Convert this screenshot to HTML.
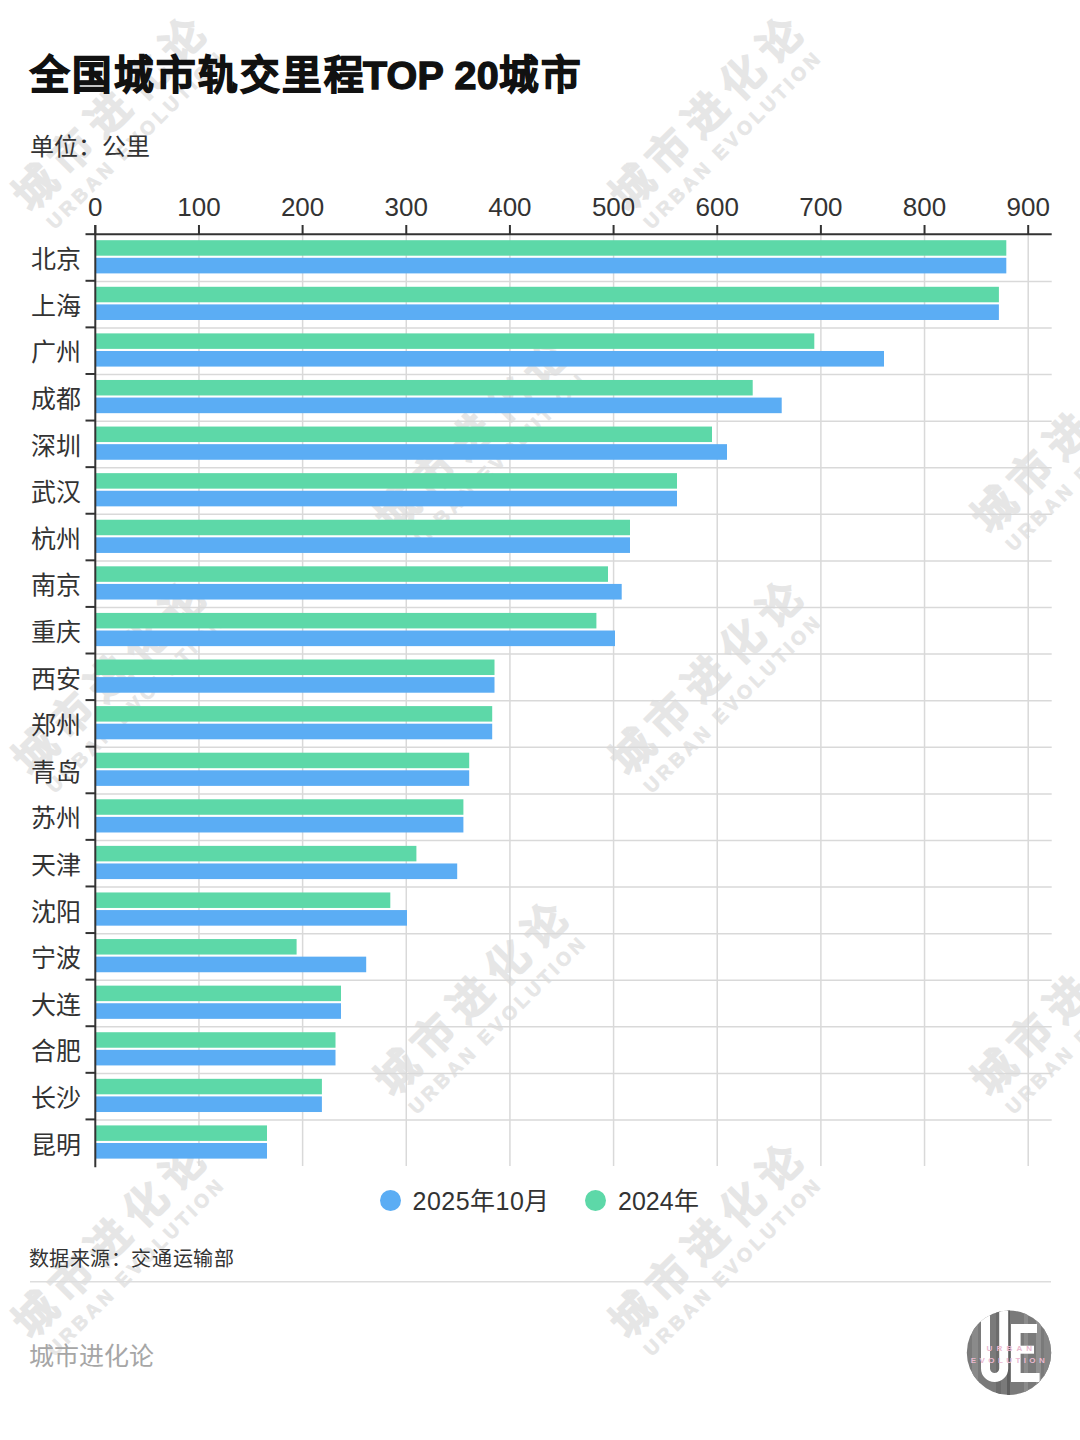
<!DOCTYPE html>
<html lang="zh-CN"><head><meta charset="utf-8"><style>
html,body{margin:0;padding:0;background:#fff;}
body{width:1080px;height:1440px;position:relative;overflow:hidden;font-family:"Liberation Sans",sans-serif;color:#333;}
.a{position:absolute;white-space:nowrap;line-height:1;}
.title{left:30px;top:56px;font-size:39.5px;font-weight:bold;color:#111;letter-spacing:2px;-webkit-text-stroke:1.3px #111;}
.lat{letter-spacing:0.2px;}
.unit{left:30px;top:135px;font-size:24px;}
.xl{position:absolute;top:194px;width:120px;text-align:center;font-size:26px;line-height:1;color:#333;}
.yl{position:absolute;left:0;width:81.2px;text-align:right;font-size:25px;line-height:28px;color:#333;}
.src{left:28.5px;top:1249px;font-size:20px;letter-spacing:0.6px;}
.foot{left:28.5px;top:1344px;font-size:25px;color:#a6a6a6;}
.leg{top:1188.5px;font-size:25px;}
.dot{position:absolute;width:21px;height:21px;border-radius:50%;top:1189.5px;}
svg{position:absolute;left:0;top:0;}
.wm{position:absolute;width:0;height:0;transform:rotate(-45deg);}
.wc{position:absolute;left:-200px;width:400px;top:-24px;height:48px;line-height:48px;text-align:center;font-size:42px;font-weight:bold;letter-spacing:10px;text-indent:10px;color:#e6e6e6;-webkit-text-stroke:1.5px #e6e6e6;}
.we{position:absolute;left:-200px;width:400px;top:26px;height:22px;line-height:22px;text-align:center;font-size:19px;font-weight:bold;letter-spacing:3.9px;text-indent:3.9px;color:#e6e6e6;-webkit-text-stroke:0.8px #e6e6e6;}
</style></head><body>
<div class="wm" style="left:109px;top:115.4px"><div class="wc">城市进化论</div><div class="we">URBAN EVOLUTION</div></div>
<div class="wm" style="left:706px;top:115.4px"><div class="wc">城市进化论</div><div class="we">URBAN EVOLUTION</div></div>
<div class="wm" style="left:109px;top:679px"><div class="wc">城市进化论</div><div class="we">URBAN EVOLUTION</div></div>
<div class="wm" style="left:706px;top:679px"><div class="wc">城市进化论</div><div class="we">URBAN EVOLUTION</div></div>
<div class="wm" style="left:109px;top:1242px"><div class="wc">城市进化论</div><div class="we">URBAN EVOLUTION</div></div>
<div class="wm" style="left:706px;top:1242px"><div class="wc">城市进化论</div><div class="we">URBAN EVOLUTION</div></div>
<div class="wm" style="left:471px;top:436.5px"><div class="wc">城市进化论</div><div class="we">URBAN EVOLUTION</div></div>
<div class="wm" style="left:1068px;top:436.5px"><div class="wc">城市进化论</div><div class="we">URBAN EVOLUTION</div></div>
<div class="wm" style="left:471px;top:1000px"><div class="wc">城市进化论</div><div class="we">URBAN EVOLUTION</div></div>
<div class="wm" style="left:1068px;top:1000px"><div class="wc">城市进化论</div><div class="we">URBAN EVOLUTION</div></div>
<svg width="1080" height="1440" viewBox="0 0 1080 1440">
<line x1="198.96" y1="234.20" x2="198.96" y2="1166" stroke="#d9d9d9" stroke-width="1.5"/>
<line x1="302.61" y1="234.20" x2="302.61" y2="1166" stroke="#d9d9d9" stroke-width="1.5"/>
<line x1="406.27" y1="234.20" x2="406.27" y2="1166" stroke="#d9d9d9" stroke-width="1.5"/>
<line x1="509.92" y1="234.20" x2="509.92" y2="1166" stroke="#d9d9d9" stroke-width="1.5"/>
<line x1="613.58" y1="234.20" x2="613.58" y2="1166" stroke="#d9d9d9" stroke-width="1.5"/>
<line x1="717.23" y1="234.20" x2="717.23" y2="1166" stroke="#d9d9d9" stroke-width="1.5"/>
<line x1="820.89" y1="234.20" x2="820.89" y2="1166" stroke="#d9d9d9" stroke-width="1.5"/>
<line x1="924.54" y1="234.20" x2="924.54" y2="1166" stroke="#d9d9d9" stroke-width="1.5"/>
<line x1="1028.20" y1="234.20" x2="1028.20" y2="1166" stroke="#d9d9d9" stroke-width="1.5"/>
<line x1="95.30" y1="281.39" x2="1051.7" y2="281.39" stroke="#d9d9d9" stroke-width="1.5"/>
<line x1="95.30" y1="327.98" x2="1051.7" y2="327.98" stroke="#d9d9d9" stroke-width="1.5"/>
<line x1="95.30" y1="374.57" x2="1051.7" y2="374.57" stroke="#d9d9d9" stroke-width="1.5"/>
<line x1="95.30" y1="421.16" x2="1051.7" y2="421.16" stroke="#d9d9d9" stroke-width="1.5"/>
<line x1="95.30" y1="467.75" x2="1051.7" y2="467.75" stroke="#d9d9d9" stroke-width="1.5"/>
<line x1="95.30" y1="514.34" x2="1051.7" y2="514.34" stroke="#d9d9d9" stroke-width="1.5"/>
<line x1="95.30" y1="560.93" x2="1051.7" y2="560.93" stroke="#d9d9d9" stroke-width="1.5"/>
<line x1="95.30" y1="607.52" x2="1051.7" y2="607.52" stroke="#d9d9d9" stroke-width="1.5"/>
<line x1="95.30" y1="654.11" x2="1051.7" y2="654.11" stroke="#d9d9d9" stroke-width="1.5"/>
<line x1="95.30" y1="700.70" x2="1051.7" y2="700.70" stroke="#d9d9d9" stroke-width="1.5"/>
<line x1="95.30" y1="747.29" x2="1051.7" y2="747.29" stroke="#d9d9d9" stroke-width="1.5"/>
<line x1="95.30" y1="793.88" x2="1051.7" y2="793.88" stroke="#d9d9d9" stroke-width="1.5"/>
<line x1="95.30" y1="840.47" x2="1051.7" y2="840.47" stroke="#d9d9d9" stroke-width="1.5"/>
<line x1="95.30" y1="887.06" x2="1051.7" y2="887.06" stroke="#d9d9d9" stroke-width="1.5"/>
<line x1="95.30" y1="933.65" x2="1051.7" y2="933.65" stroke="#d9d9d9" stroke-width="1.5"/>
<line x1="95.30" y1="980.24" x2="1051.7" y2="980.24" stroke="#d9d9d9" stroke-width="1.5"/>
<line x1="95.30" y1="1026.83" x2="1051.7" y2="1026.83" stroke="#d9d9d9" stroke-width="1.5"/>
<line x1="95.30" y1="1073.42" x2="1051.7" y2="1073.42" stroke="#d9d9d9" stroke-width="1.5"/>
<line x1="95.30" y1="1120.01" x2="1051.7" y2="1120.01" stroke="#d9d9d9" stroke-width="1.5"/>
<rect x="95.30" y="240.20" width="911.00" height="15.5" fill="#5dd8a8"/>
<rect x="95.30" y="257.80" width="911.00" height="15.6" fill="#5badf4"/>
<rect x="95.30" y="286.79" width="903.60" height="15.5" fill="#5dd8a8"/>
<rect x="95.30" y="304.39" width="903.60" height="15.6" fill="#5badf4"/>
<rect x="95.30" y="333.38" width="719.00" height="15.5" fill="#5dd8a8"/>
<rect x="95.30" y="350.98" width="788.70" height="15.6" fill="#5badf4"/>
<rect x="95.30" y="379.97" width="657.40" height="15.5" fill="#5dd8a8"/>
<rect x="95.30" y="397.57" width="686.40" height="15.6" fill="#5badf4"/>
<rect x="95.30" y="426.56" width="616.70" height="15.5" fill="#5dd8a8"/>
<rect x="95.30" y="444.16" width="631.70" height="15.6" fill="#5badf4"/>
<rect x="95.30" y="473.15" width="581.70" height="15.5" fill="#5dd8a8"/>
<rect x="95.30" y="490.75" width="581.70" height="15.6" fill="#5badf4"/>
<rect x="95.30" y="519.74" width="534.70" height="15.5" fill="#5dd8a8"/>
<rect x="95.30" y="537.34" width="534.70" height="15.6" fill="#5badf4"/>
<rect x="95.30" y="566.33" width="512.70" height="15.5" fill="#5dd8a8"/>
<rect x="95.30" y="583.93" width="526.40" height="15.6" fill="#5badf4"/>
<rect x="95.30" y="612.92" width="501.10" height="15.5" fill="#5dd8a8"/>
<rect x="95.30" y="630.52" width="519.70" height="15.6" fill="#5badf4"/>
<rect x="95.30" y="659.51" width="399.20" height="15.5" fill="#5dd8a8"/>
<rect x="95.30" y="677.11" width="399.20" height="15.6" fill="#5badf4"/>
<rect x="95.30" y="706.10" width="396.90" height="15.5" fill="#5dd8a8"/>
<rect x="95.30" y="723.70" width="396.90" height="15.6" fill="#5badf4"/>
<rect x="95.30" y="752.69" width="373.90" height="15.5" fill="#5dd8a8"/>
<rect x="95.30" y="770.29" width="373.90" height="15.6" fill="#5badf4"/>
<rect x="95.30" y="799.28" width="368.10" height="15.5" fill="#5dd8a8"/>
<rect x="95.30" y="816.88" width="368.10" height="15.6" fill="#5badf4"/>
<rect x="95.30" y="845.87" width="321.10" height="15.5" fill="#5dd8a8"/>
<rect x="95.30" y="863.47" width="361.90" height="15.6" fill="#5badf4"/>
<rect x="95.30" y="892.46" width="295.00" height="15.5" fill="#5dd8a8"/>
<rect x="95.30" y="910.06" width="311.70" height="15.6" fill="#5badf4"/>
<rect x="95.30" y="939.05" width="201.30" height="15.5" fill="#5dd8a8"/>
<rect x="95.30" y="956.65" width="270.90" height="15.6" fill="#5badf4"/>
<rect x="95.30" y="985.64" width="245.70" height="15.5" fill="#5dd8a8"/>
<rect x="95.30" y="1003.24" width="245.70" height="15.6" fill="#5badf4"/>
<rect x="95.30" y="1032.23" width="240.20" height="15.5" fill="#5dd8a8"/>
<rect x="95.30" y="1049.83" width="240.20" height="15.6" fill="#5badf4"/>
<rect x="95.30" y="1078.82" width="226.60" height="15.5" fill="#5dd8a8"/>
<rect x="95.30" y="1096.42" width="226.60" height="15.6" fill="#5badf4"/>
<rect x="95.30" y="1125.41" width="171.70" height="15.5" fill="#5dd8a8"/>
<rect x="95.30" y="1143.01" width="171.70" height="15.6" fill="#5badf4"/>
<line x1="94.30" y1="234.20" x2="1051.7" y2="234.20" stroke="#333333" stroke-width="2"/>
<line x1="95.30" y1="225" x2="95.30" y2="1167.2" stroke="#333333" stroke-width="2"/>
<line x1="95.30" y1="225" x2="95.30" y2="234.20" stroke="#333333" stroke-width="2"/>
<line x1="198.96" y1="225" x2="198.96" y2="234.20" stroke="#333333" stroke-width="2"/>
<line x1="302.61" y1="225" x2="302.61" y2="234.20" stroke="#333333" stroke-width="2"/>
<line x1="406.27" y1="225" x2="406.27" y2="234.20" stroke="#333333" stroke-width="2"/>
<line x1="509.92" y1="225" x2="509.92" y2="234.20" stroke="#333333" stroke-width="2"/>
<line x1="613.58" y1="225" x2="613.58" y2="234.20" stroke="#333333" stroke-width="2"/>
<line x1="717.23" y1="225" x2="717.23" y2="234.20" stroke="#333333" stroke-width="2"/>
<line x1="820.89" y1="225" x2="820.89" y2="234.20" stroke="#333333" stroke-width="2"/>
<line x1="924.54" y1="225" x2="924.54" y2="234.20" stroke="#333333" stroke-width="2"/>
<line x1="1028.20" y1="225" x2="1028.20" y2="234.20" stroke="#333333" stroke-width="2"/>
<line x1="85.5" y1="234.20" x2="95.30" y2="234.20" stroke="#333333" stroke-width="2"/>
<line x1="85.5" y1="280.79" x2="95.30" y2="280.79" stroke="#333333" stroke-width="2"/>
<line x1="85.5" y1="327.38" x2="95.30" y2="327.38" stroke="#333333" stroke-width="2"/>
<line x1="85.5" y1="373.97" x2="95.30" y2="373.97" stroke="#333333" stroke-width="2"/>
<line x1="85.5" y1="420.56" x2="95.30" y2="420.56" stroke="#333333" stroke-width="2"/>
<line x1="85.5" y1="467.15" x2="95.30" y2="467.15" stroke="#333333" stroke-width="2"/>
<line x1="85.5" y1="513.74" x2="95.30" y2="513.74" stroke="#333333" stroke-width="2"/>
<line x1="85.5" y1="560.33" x2="95.30" y2="560.33" stroke="#333333" stroke-width="2"/>
<line x1="85.5" y1="606.92" x2="95.30" y2="606.92" stroke="#333333" stroke-width="2"/>
<line x1="85.5" y1="653.51" x2="95.30" y2="653.51" stroke="#333333" stroke-width="2"/>
<line x1="85.5" y1="700.10" x2="95.30" y2="700.10" stroke="#333333" stroke-width="2"/>
<line x1="85.5" y1="746.69" x2="95.30" y2="746.69" stroke="#333333" stroke-width="2"/>
<line x1="85.5" y1="793.28" x2="95.30" y2="793.28" stroke="#333333" stroke-width="2"/>
<line x1="85.5" y1="839.87" x2="95.30" y2="839.87" stroke="#333333" stroke-width="2"/>
<line x1="85.5" y1="886.46" x2="95.30" y2="886.46" stroke="#333333" stroke-width="2"/>
<line x1="85.5" y1="933.05" x2="95.30" y2="933.05" stroke="#333333" stroke-width="2"/>
<line x1="85.5" y1="979.64" x2="95.30" y2="979.64" stroke="#333333" stroke-width="2"/>
<line x1="85.5" y1="1026.23" x2="95.30" y2="1026.23" stroke="#333333" stroke-width="2"/>
<line x1="85.5" y1="1072.82" x2="95.30" y2="1072.82" stroke="#333333" stroke-width="2"/>
<line x1="85.5" y1="1119.41" x2="95.30" y2="1119.41" stroke="#333333" stroke-width="2"/>
<line x1="30" y1="1281.7" x2="1051" y2="1281.7" stroke="#dddddd" stroke-width="1.5"/>
<defs><clipPath id="lc"><circle cx="1009" cy="1352.7" r="42.2"/></clipPath></defs>
<g clip-path="url(#lc)">
<rect x="960" y="1305" width="100" height="100" fill="#7a7a7a"/>
<rect x="972" y="1305" width="6" height="100" fill="#8a8a8a"/>
<rect x="996" y="1305" width="5" height="100" fill="#6c6c6c"/>
<rect x="1007" y="1305" width="3" height="100" fill="#5f5f5f"/>
<rect x="1024" y="1305" width="4" height="100" fill="#8c8c8c"/>
<rect x="1036" y="1305" width="5" height="100" fill="#909090"/>
<rect x="1044" y="1305" width="8" height="100" fill="#858585"/>
<path d="M985.5,1300 V1368.5 a9.1,9.1 0 0 0 18.2,0 V1300" fill="none" stroke="#fff" stroke-width="9"/>
<rect x="1011" y="1324" width="9.6" height="58" fill="#fff"/>
<rect x="1011" y="1324" width="26" height="9" fill="#fff"/>
<rect x="1011" y="1373" width="28.6" height="9" fill="#fff"/>
<rect x="1020" y="1345.7" width="14" height="8" fill="#fff"/>
</g>
<text x="1011.4" y="1351.3" text-anchor="middle" font-family="Liberation Sans" font-size="8" font-weight="bold" letter-spacing="4.2" fill="#eab8cf">URBAN</text>
<text x="1009.5" y="1363" text-anchor="middle" font-family="Liberation Sans" font-size="8" font-weight="bold" letter-spacing="3.4" fill="#eab8cf">EVOLUTION</text>

</svg>
<div class="a title">全国城市轨交里程<span class="lat" style="margin-left:-3px">TOP 20</span>城市</div>
<div class="a unit">单位：公里</div>
<div class="xl" style="left:35.30px">0</div>
<div class="xl" style="left:138.96px">100</div>
<div class="xl" style="left:242.61px">200</div>
<div class="xl" style="left:346.27px">300</div>
<div class="xl" style="left:449.92px">400</div>
<div class="xl" style="left:553.58px">500</div>
<div class="xl" style="left:657.23px">600</div>
<div class="xl" style="left:760.89px">700</div>
<div class="xl" style="left:864.54px">800</div>
<div class="xl" style="left:968.20px">900</div>
<div class="yl" style="top:245.30px">北京</div>
<div class="yl" style="top:291.88px">上海</div>
<div class="yl" style="top:338.48px">广州</div>
<div class="yl" style="top:385.07px">成都</div>
<div class="yl" style="top:431.66px">深圳</div>
<div class="yl" style="top:478.25px">武汉</div>
<div class="yl" style="top:524.83px">杭州</div>
<div class="yl" style="top:571.42px">南京</div>
<div class="yl" style="top:618.01px">重庆</div>
<div class="yl" style="top:664.60px">西安</div>
<div class="yl" style="top:711.19px">郑州</div>
<div class="yl" style="top:757.78px">青岛</div>
<div class="yl" style="top:804.37px">苏州</div>
<div class="yl" style="top:850.97px">天津</div>
<div class="yl" style="top:897.55px">沈阳</div>
<div class="yl" style="top:944.14px">宁波</div>
<div class="yl" style="top:990.74px">大连</div>
<div class="yl" style="top:1037.33px">合肥</div>
<div class="yl" style="top:1083.92px">长沙</div>
<div class="yl" style="top:1130.51px">昆明</div>
<div class="dot" style="left:380px;background:#5badf4"></div>
<div class="a leg" style="left:412.5px;letter-spacing:0.5px">2025年10月</div>
<div class="dot" style="left:585px;background:#5dd8a8"></div>
<div class="a leg" style="left:618px">2024年</div>
<div class="a src">数据来源：交通运输部</div>
<div class="a foot">城市进化论</div>
</body></html>
